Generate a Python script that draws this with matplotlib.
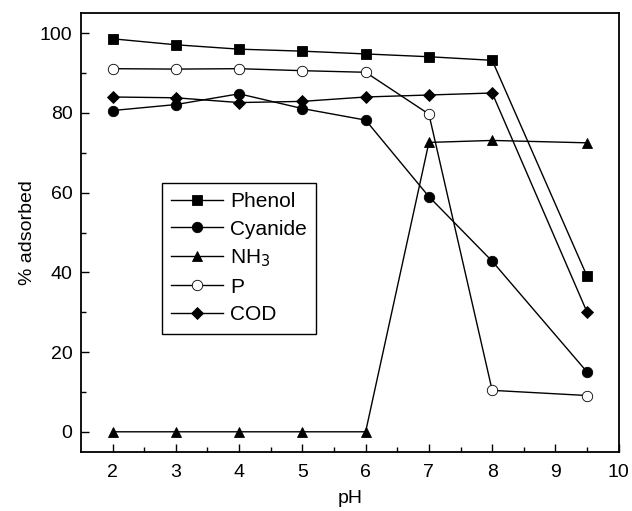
import matplotlib
matplotlib.use('Agg')
import matplotlib.pyplot as plt

plt.rcParams['font.family'] = ['Liberation Sans', 'DejaVu Sans']

# datos
ph = [2, 3, 4, 5, 6, 7, 8, 9.5]
phenol = [98.6, 97.1, 96.0, 95.5, 94.8, 94.1, 93.2, 39.0]
cyanide = [80.6, 82.1, 84.8, 81.1, 78.2, 59.0, 42.8, 15.0]
nh3 = [0, 0, 0, 0, 0, 72.6, 73.1, 72.5]
p = [91.1, 91.0, 91.1, 90.6, 90.2, 79.7, 10.4, 9.1]
cod = [84.0, 83.8, 82.6, 82.9, 84.0, 84.5, 85.0, 30.0]


def main():
    fig = plt.figure(figsize=(6.32, 5.11), dpi=100)
    ax = fig.add_axes([0.128, 0.116, 0.851, 0.858])

    series = [
        (phenol, 's', 'black', 'Phenol'),
        (cyanide, 'o', 'black', 'Cyanide'),
        (nh3, '^', 'black', 'NH$_3$'),
        (p, 'o', 'white', 'P'),
        (cod, 'D', 'black', 'COD'),
    ]
    for vals, mk, fc, lab in series:
        ms = 6.5 if mk == 'D' else 7.5
        ax.plot(ph, vals, color='black', lw=1.0, marker=mk, markersize=ms,
                markerfacecolor=fc, markeredgecolor='black', markeredgewidth=0.6,
                label=lab)

    ax.set_xlim(1.5, 10)
    ax.set_ylim(-5, 105)
    ax.set_xticks([2, 3, 4, 5, 6, 7, 8, 9, 10])
    ax.set_xticks([2.5, 3.5, 4.5, 5.5, 6.5, 7.5, 8.5, 9.5], minor=True)
    ax.set_yticks([0, 20, 40, 60, 80, 100])
    ax.set_yticks([10, 30, 50, 70, 90], minor=True)
    ax.tick_params(which='both', direction='in', labelsize=14, width=1,
                   top=False, right=False)
    ax.tick_params(which='major', length=6)
    ax.tick_params(which='minor', length=3.5)
    ax.tick_params(axis='x', which='major', pad=9)
    ax.tick_params(axis='y', which='major', pad=6)
    for s in ax.spines.values():
        s.set_linewidth(1.3)

    ax.set_xlabel('pH', fontsize=14, labelpad=6)
    ax.set_ylabel('% adsorbed', fontsize=14, labelpad=3)

    leg = ax.legend(loc='upper left', bbox_to_anchor=(0.15, 0.614),
                    borderaxespad=0, fontsize=15, fancybox=False,
                    edgecolor='black', framealpha=1, handlelength=2.5,
                    labelspacing=0.42, handletextpad=0.35, borderpad=0.45)
    leg.get_frame().set_linewidth(1.0)

    fig.savefig('out.png', dpi=100)


if __name__ == "__main__":
    main()
